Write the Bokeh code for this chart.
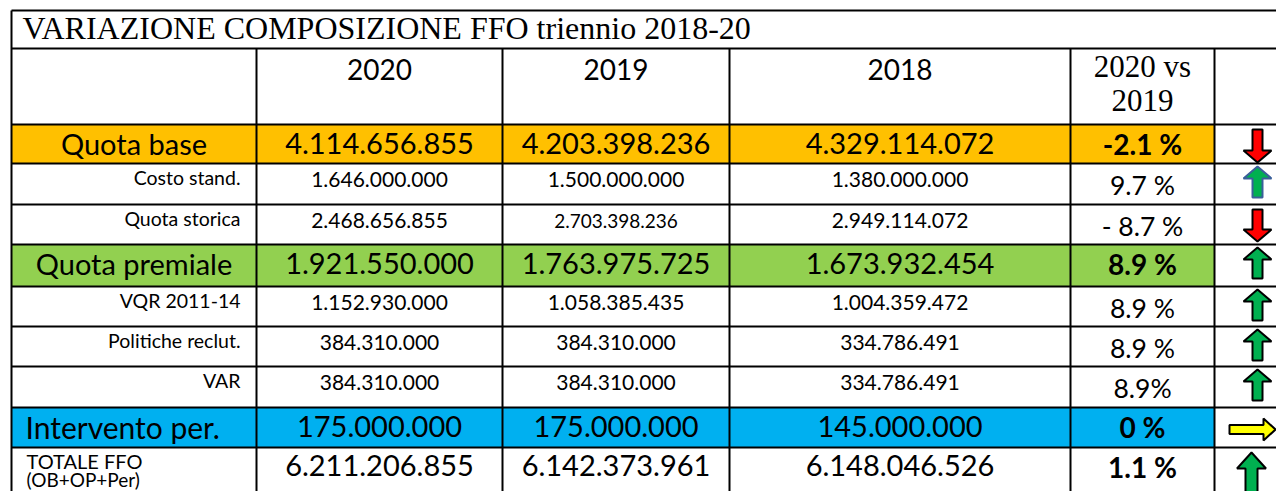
from bokeh.plotting import figure
from bokeh.models import Range1d
from bokeh.core.properties import value
from bokeh.embed import file_html
from bokeh.resources import INLINE

# ---------------- data ----------------
title_text = "VARIAZIONE COMPOSIZIONE FFO triennio 2018-20"
years = ["2020", "2019", "2018"]
compare_header = ["2020 vs", "2019"]
row_labels = ["Quota base", "Costo stand.", "Quota storica", "Quota premiale",
              "VQR 2011-14", "Politiche reclut.", "VAR", "Intervento per.",
              "TOTALE FFO|(OB+OP+Per)"]
row_kinds = ["main", "sub", "sub", "main", "sub", "sub", "sub", "main", "total"]
values_2020 = [4114656855, 1646000000, 2468656855, 1921550000, 1152930000,
               384310000, 384310000, 175000000, 6211206855]
values_2019 = [4203398236, 1500000000, 2703398236, 1763975725, 1058385435,
               384310000, 384310000, 175000000, 6142373961]
values_2018 = [4329114072, 1380000000, 2949114072, 1673932454, 1004359472,
               334786491, 334786491, 145000000, 6148046526]
pct_change = ["-2.1 %", "9.7 %", "- 8.7 %", "8.9 %", "8.9 %", "8.9 %", "8.9%", "0 %", "1.1 %"]
trend = ["down", "up", "down", "up", "up", "up", "up", "flat", "up"]

# ---------------- layout / style ----------------
W, H = 1276, 491
col_edges = [11, 256, 502, 729, 1070, 1214, 1283]
row_edges = [10, 48, 124, 163, 204, 244, 286, 326, 366, 407, 447, 530]
row_fill = {"Quota base": "#FFC000", "Quota premiale": "#92D050", "Intervento per.": "#00B0F0"}
SANS = value("Lato")
SERIF = value("Liberation Serif")
BASE_SHIFT = 0.4   # svg text baseline correction, fraction of font size

def fmt(v):
    return f"{v:,}".replace(",", ".")

p = figure(width=W, height=H, output_backend="svg", toolbar_location=None,
           x_range=Range1d(0, W), y_range=Range1d(H, 0),
           min_border=0, outline_line_color=None, background_fill_color="white",
           border_fill_color="white")
p.axis.visible = False
p.grid.visible = False

# fills
fl, fr, ft, fb, fc = [], [], [], [], []
for i, lab in enumerate(row_labels):
    if lab in row_fill:
        fl.append(col_edges[0]); fr.append(col_edges[5])
        ft.append(row_edges[i + 2]); fb.append(row_edges[i + 3]); fc.append(row_fill[lab])
p.quad(left=fl, right=fr, top=ft, bottom=fb, fill_color=fc, line_color=None)

# grid lines
x0s, y0s, x1s, y1s = [], [], [], []
for y in row_edges[:-1]:
    x0s.append(col_edges[0]); x1s.append(col_edges[-1] + 5); y0s.append(y); y1s.append(y)
for k, x in enumerate(col_edges):
    top = row_edges[0] if k in (0, len(col_edges) - 1) else row_edges[1]
    x0s.append(x); x1s.append(x); y0s.append(top); y1s.append(row_edges[-1])
p.segment(x0=x0s, y0=y0s, x1=x1s, y1=y1s, line_color="black", line_width=2)

def txt(x, y, t, font=SANS, size=20, align="center", style="normal"):
    p.text(x=[x], y=[y - BASE_SHIFT * size], text=[t], text_font=font,
           text_font_size=value(f"{size}px"),
           text_align=align, text_baseline="alphabetic", text_color="black",
           text_font_style=style)

# title
txt(22, 40, title_text, font=SERIF, size=32, align="left")
# header
for j, yr in enumerate(years):
    cx = (col_edges[j + 1] + col_edges[j + 2]) / 2
    txt(cx, 80, yr, size=28)
cxp = (col_edges[4] + col_edges[5]) / 2
txt(cxp, 78, compare_header[0], font=SERIF, size=31)
txt(cxp, 112, compare_header[1], font=SERIF, size=31)

cx_label = (col_edges[0] + col_edges[1]) / 2
for i, lab in enumerate(row_labels):
    top = row_edges[i + 2]
    kind = row_kinds[i]
    vals = [values_2020[i], values_2019[i], values_2018[i]]
    if kind == "main":
        if lab == "Intervento per.":
            txt(25, top + 31, lab, size=30, align="left")
        else:
            txt(cx_label, top + 31, lab, size=29)
        for j, v in enumerate(vals):
            cx = (col_edges[j + 1] + col_edges[j + 2]) / 2
            txt(cx, top + 31, fmt(v), size=29)
        txt(cxp, top + 31, pct_change[i], size=28, style="bold")
    elif kind == "sub":
        txt(col_edges[1] - 16, top + 22, lab, size=19.5, align="right")
        for j, v in enumerate(vals):
            cx = (col_edges[j + 1] + col_edges[j + 2]) / 2
            size = 19 if (i == 2 and j == 1) else 21
            txt(cx, top + 24, fmt(v), size=size)
        txt(cxp, top + 32, pct_change[i], size=26.5)
    else:
        l1, l2 = lab.split("|")
        txt(26, top + 21, l1, size=20, align="left")
        txt(26, top + 40, l2, size=19, align="left")
        for j, v in enumerate(vals):
            cx = (col_edges[j + 1] + col_edges[j + 2]) / 2
            txt(cx, top + 30, fmt(v), size=29)
        txt(cxp, top + 31, pct_change[i], size=28, style="bold")

# arrows
axs, ays, afill, aline = [], [], [], []
for i, d in enumerate(trend):
    top = row_edges[i + 2]
    if row_kinds[i] == "total":
        cx, hw, sw, hl, y0, y1 = 1251, 14.5, 6, 16, top + 5, top + 49
    else:
        cx, hw, sw, hl, y0, y1 = 1257, 14, 5, 12, top + 3, top + 34
    if d == "up":
        xs = [cx, cx + hw, cx + sw, cx + sw, cx - sw, cx - sw, cx - hw]
        ys = [y0, y0 + hl, y0 + hl, y1, y1, y0 + hl, y0 + hl]
        fill = "#00B050"
        line = "#3A5F9A" if i == 1 else "black"
    elif d == "down":
        ys0, ys1 = top + 5, top + 37
        if i == 0:
            ys1 = top + 38
        xs = [cx, cx + hw, cx + sw, cx + sw, cx - sw, cx - sw, cx - hw]
        ys = [ys1, ys1 - hl, ys1 - hl, ys0, ys0, ys1 - hl, ys1 - hl]
        fill = "#FF0000"; line = "black"
    else:
        cy = top + 22
        xl, xr, xh = 1229, 1275, 1263
        xs = [xr, xh, xh, xl, xl, xh, xh]
        ys = [cy, cy - 11, cy - 4.5, cy - 4.5, cy + 4.5, cy + 4.5, cy + 11]
        fill = "#FFFF00"; line = "black"
    axs.append(xs); ays.append(ys); afill.append(fill); aline.append(line)
p.patches(xs=axs, ys=ays, fill_color=afill, line_color=aline, line_width=2)

open("out.html", "w").write(file_html(p, INLINE))
